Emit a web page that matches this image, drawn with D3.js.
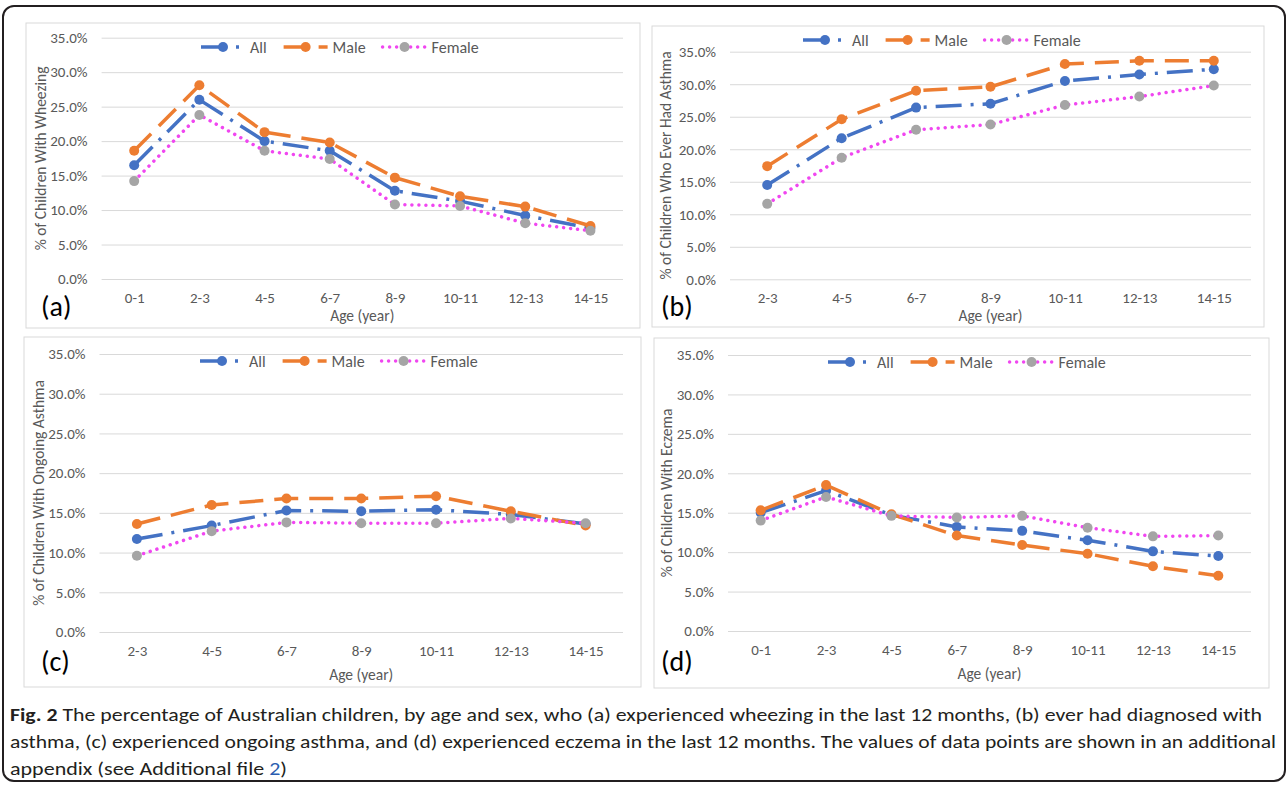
<!DOCTYPE html>
<html>
<head>
<meta charset="utf-8">
<script src="https://cdn.jsdelivr.net/npm/d3@7"></script>
<style>
body { margin: 0; background: #fff; }
</style>
</head>
<body>
<svg id="fig" width="1288" height="786"></svg>
<script>
// categories and ticks
var ages8 = ["0-1", "2-3", "4-5", "6-7", "8-9", "10-11", "12-13", "14-15"];
var ages7 = ["2-3", "4-5", "6-7", "8-9", "10-11", "12-13", "14-15"];
var yTicks = [0, 5, 10, 15, 20, 25, 30, 35];
var seriesNames = ["All", "Male", "Female"];

// (a) wheezing in last 12 months
var wheezeAll = [16.5, 26.0, 20.0, 18.6, 12.8, 11.3, 9.2, 7.4];
var wheezeMale = [18.6, 28.1, 21.3, 19.8, 14.7, 12.0, 10.5, 7.7];
var wheezeFemale = [14.2, 23.8, 18.6, 17.4, 10.8, 10.6, 8.1, 7.0];

// (b) ever had asthma
var everAll = [14.5, 21.7, 26.4, 27.0, 30.5, 31.5, 32.3];
var everMale = [17.4, 24.6, 29.0, 29.6, 33.1, 33.6, 33.6];
var everFemale = [11.6, 18.7, 23.0, 23.8, 26.8, 28.1, 29.8];

// (c) ongoing asthma
var ongoingAll = [11.7, 13.4, 15.3, 15.2, 15.4, 14.8, 13.6];
var ongoingMale = [13.6, 16.0, 16.8, 16.8, 17.1, 15.2, 13.4];
var ongoingFemale = [9.6, 12.7, 13.8, 13.7, 13.7, 14.3, 13.7];

// (d) eczema in last 12 months
var eczemaAll = [15.0, 17.8, 14.7, 13.2, 12.7, 11.5, 10.1, 9.5];
var eczemaMale = [15.3, 18.5, 14.8, 12.1, 10.9, 9.8, 8.2, 7.0];
var eczemaFemale = [14.0, 17.0, 14.6, 14.4, 14.6, 13.1, 12.0, 12.1];

var FONT = "Carlito, 'Liberation Sans Narrow', 'Arial Narrow', sans-serif";
var grey = "#595959";

// line styles per series
var styles = {
  All:    { color: "#4472C4", dash: "26,9,3,9", cap: "butt", width: 3.5, marker: "#4472C4" },
  Male:   { color: "#ED7D31", dash: "24,11", cap: "butt", width: 3.5, marker: "#ED7D31" },
  Female: { color: "#F046F0", dash: "0.01,7", cap: "round", width: 3.5, marker: "#A5A5A5" }
};

var svg = d3.select("#fig");

// outer frame
svg.append("rect").attr("x", 3).attr("y", 6).attr("width", 1282).attr("height", 775)
  .attr("rx", 11).attr("fill", "#fff").attr("stroke", "#231f20").attr("stroke-width", 2);

function drawPanel(p) {
  var g = svg.append("g");
  g.append("rect").attr("x", p.box[0]).attr("y", p.box[1])
    .attr("width", p.box[2] - p.box[0]).attr("height", p.box[3] - p.box[1])
    .attr("fill", "#fff").attr("stroke", "#d9d9d9").attr("stroke-width", 1);

  var x = d3.scalePoint().domain(p.cats).range([p.px[0], p.px[1]]).padding(0.5);
  var y = d3.scaleLinear().domain([0, 35]).range([p.py[0], p.py[1]]);

  // y axis with gridlines
  var ya = g.append("g").attr("transform", "translate(" + p.px[0] + ",0)")
    .call(d3.axisLeft(y).tickValues(yTicks).tickSize(-(p.px[1] - p.px[0])).tickPadding(14)
      .tickFormat(function(d) { return d.toFixed(1) + "%"; }));
  ya.select(".domain").remove();
  ya.selectAll(".tick line").attr("stroke", "#d9d9d9");
  ya.selectAll(".tick text").attr("fill", grey).style("font-family", FONT).style("font-size", "15px");

  // x axis labels
  var xa = g.append("g").attr("transform", "translate(0," + p.py[0] + ")")
    .call(d3.axisBottom(x).tickSize(0).tickPadding(p.tickPad));
  xa.select(".domain").remove();
  xa.selectAll(".tick text").attr("fill", grey).style("font-family", FONT).style("font-size", "15px");

  // axis titles
  g.append("text").attr("x", (p.px[0] + p.px[1]) / 2).attr("y", p.xTitleY)
    .attr("text-anchor", "middle").attr("fill", grey)
    .style("font-family", FONT).style("font-size", "15.5px").text("Age (year)");
  g.append("text")
    .attr("transform", "translate(" + p.yTitleX + "," + ((p.py[0] + p.py[1]) / 2) + ") rotate(-90)")
    .attr("text-anchor", "middle").attr("dominant-baseline", "central").attr("fill", grey)
    .style("font-family", FONT).style("font-size", "15.5px").text(p.yTitle);

  // panel label
  g.append("text").attr("x", p.label[0]).attr("y", p.label[1]).attr("fill", "#000")
    .style("font-family", FONT).style("font-size", "28px").text(p.labelText);

  // series
  var line = d3.line()
    .x(function(d, i) { return x(p.cats[i]); })
    .y(function(d) { return y(d); });
  seriesNames.forEach(function(name, k) {
    var s = styles[name];
    var vals = p.series[k];
    g.append("path").datum(vals).attr("d", line).attr("fill", "none")
      .attr("stroke", s.color).attr("stroke-width", s.width)
      .attr("stroke-dasharray", s.dash).attr("stroke-linecap", s.cap);
    g.selectAll(null).data(vals).enter().append("circle")
      .attr("cx", function(d, i) { return x(p.cats[i]); })
      .attr("cy", function(d) { return y(d); })
      .attr("r", 5).attr("fill", s.marker);
  });

  // legend
  var lx = p.legend[0], ly = p.legend[1];
  seriesNames.forEach(function(name) {
    var s = styles[name];
    g.append("line").attr("x1", lx).attr("x2", lx + 44).attr("y1", ly).attr("y2", ly)
      .attr("stroke", s.color).attr("stroke-width", s.width)
      .attr("stroke-dasharray", s.dash).attr("stroke-linecap", s.cap);
    g.append("circle").attr("cx", lx + 22).attr("cy", ly).attr("r", 5).attr("fill", s.marker);
    var t = g.append("text").attr("x", lx + 49).attr("y", ly).attr("dominant-baseline", "central")
      .attr("fill", grey).style("font-family", FONT).style("font-size", "16px").text(name);
    lx = lx + 49 + t.node().getComputedTextLength() + 17;
  });
}

drawPanel({
  cats: ages8, series: [wheezeAll, wheezeMale, wheezeFemale],
  box: [26, 23, 640, 328], px: [101.6, 623], py: [279, 37.7],
  tickPad: 13, xTitleY: 321, yTitleX: 40, yTitle: "% of Children With Wheezing",
  label: [41, 316], labelText: "(a)", legend: [201, 47]
});
drawPanel({
  cats: ages7, series: [everAll, everMale, everFemale],
  box: [652, 26, 1264, 327], px: [730, 1251], py: [279.3, 51.7],
  tickPad: 13, xTitleY: 321, yTitleX: 665, yTitle: "% of Children Who Ever Had Asthma",
  label: [661, 316], labelText: "(b)", legend: [803, 40]
});
drawPanel({
  cats: ages7, series: [ongoingAll, ongoingMale, ongoingFemale],
  box: [24, 337, 641, 687], px: [99.5, 623], py: [632, 354],
  tickPad: 13, xTitleY: 680, yTitleX: 38, yTitle: "% of Children With Ongoing Asthma",
  label: [41, 671], labelText: "(c)", legend: [200, 361]
});
drawPanel({
  cats: ages8, series: [eczemaAll, eczemaMale, eczemaFemale],
  box: [654, 338, 1269, 688], px: [728, 1251], py: [631, 355],
  tickPad: 13, xTitleY: 679, yTitleX: 666, yTitle: "% of Children With Eczema",
  label: [661, 671], labelText: "(d)", legend: [828, 362]
});

// caption
var capFont = "Carlito, 'Liberation Sans Narrow', sans-serif";
var cap1 = svg.append("text").attr("x", 10).attr("y", 721).attr("fill", "#231f20")
  .style("font-family", capFont).style("font-size", "19px")
  .attr("textLength", 1252).attr("lengthAdjust", "spacingAndGlyphs");
cap1.append("tspan").style("font-weight", "bold").text("Fig. 2");
cap1.append("tspan").text(" The percentage of Australian children, by age and sex, who (a) experienced wheezing in the last 12 months, (b) ever had diagnosed with");
svg.append("text").attr("x", 10).attr("y", 748).attr("fill", "#231f20")
  .style("font-family", capFont).style("font-size", "19px")
  .attr("textLength", 1266).attr("lengthAdjust", "spacingAndGlyphs")
  .text("asthma, (c) experienced ongoing asthma, and (d) experienced eczema in the last 12 months. The values of data points are shown in an additional");
var cap3 = svg.append("text").attr("x", 10).attr("y", 775).attr("fill", "#231f20")
  .style("font-family", capFont).style("font-size", "19px")
  .attr("textLength", 277).attr("lengthAdjust", "spacingAndGlyphs");
cap3.append("tspan").text("appendix (see Additional file ");
cap3.append("tspan").attr("fill", "#2a5db0").text("2");
cap3.append("tspan").text(")");
</script>
</body>
</html>
